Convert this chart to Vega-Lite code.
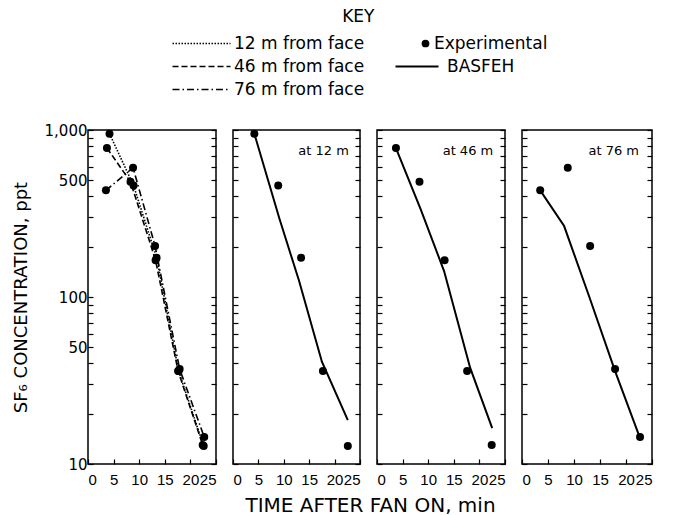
{
  "$schema": "https://vega.github.io/schema/vega-lite/v6.json",
  "padding": {"left": 11, "right": 5, "top": 8, "bottom": 0},
  "background": "white",
  "config": {
    "font": "DejaVu Sans",
    "view": {"stroke": "black", "strokeWidth": 1.5},
    "axis": {"grid": false, "domain": false, "tickColor": "black", "tickWidth": 1.2, "labelColor": "black", "titleColor": "black", "labelFont": "DejaVu Sans", "titleFont": "DejaVu Sans", "titleFontWeight": "normal", "labelFontSize": 15, "labelOverlap": false, "tickCount": 50},
    "axisX": {"labelFont": "Liberation Sans", "labelFontSize": 15},
    "legend": {"labelFont": "DejaVu Sans", "labelFontSize": 17, "labelColor": "black", "padding": 0, "rowPadding": 5, "labelOffset": 2, "title": null},
    "title": {"font": "DejaVu Sans", "fontSize": 17, "fontWeight": "normal", "color": "black"}
  },
  "title": {"text": "KEY", "anchor": "middle", "dx": 26, "offset": 9},
  "datasets": {
    "exp": [
      {"distance": "12 m from face", "t": 4.2, "c": 950},
      {"distance": "12 m from face", "t": 8.9, "c": 465},
      {"distance": "12 m from face", "t": 13.4, "c": 172},
      {"distance": "12 m from face", "t": 17.7, "c": 36},
      {"distance": "12 m from face", "t": 22.6, "c": 12.8},
      {"distance": "46 m from face", "t": 3.7, "c": 780},
      {"distance": "46 m from face", "t": 8.3, "c": 490},
      {"distance": "46 m from face", "t": 13.2, "c": 166},
      {"distance": "46 m from face", "t": 17.6, "c": 36},
      {"distance": "46 m from face", "t": 22.4, "c": 13},
      {"distance": "76 m from face", "t": 3.5, "c": 435},
      {"distance": "76 m from face", "t": 8.8, "c": 595},
      {"distance": "76 m from face", "t": 13.1, "c": 202},
      {"distance": "76 m from face", "t": 17.9, "c": 37},
      {"distance": "76 m from face", "t": 22.7, "c": 14.5}
    ],
    "model": [
      {"distance": "12 m from face", "t": 4.2, "c": 950},
      {"distance": "12 m from face", "t": 9.1, "c": 297},
      {"distance": "12 m from face", "t": 13.0, "c": 125},
      {"distance": "12 m from face", "t": 17.5, "c": 41},
      {"distance": "12 m from face", "t": 22.6, "c": 18.3},
      {"distance": "46 m from face", "t": 3.7, "c": 780},
      {"distance": "46 m from face", "t": 8.5, "c": 337},
      {"distance": "46 m from face", "t": 13.1, "c": 143},
      {"distance": "46 m from face", "t": 18.2, "c": 37.6},
      {"distance": "46 m from face", "t": 22.5, "c": 16.4},
      {"distance": "76 m from face", "t": 3.5, "c": 435},
      {"distance": "76 m from face", "t": 8.1, "c": 266},
      {"distance": "76 m from face", "t": 12.9, "c": 101},
      {"distance": "76 m from face", "t": 17.9, "c": 36},
      {"distance": "76 m from face", "t": 22.7, "c": 14.3}
    ]
  },
  "spacing": 17,
  "bounds": "flush",
  "hconcat": [
    {
      "width": 128, "height": 334,
      "data": {"name": "exp"},
      "layer": [
        {
          "mark": {"type": "line", "color": "black", "strokeWidth": 1.6},
          "encoding": {
            "x": {"field": "t", "type": "quantitative", "scale": {"domain": [0, 25], "nice": false}, "axis": {"values": [0, 5, 10, 15, 20, 25], "tickCount": 50, "format": "d", "tickSize": -5, "labelPadding": 13, "labelFlush": true, "labelOverlap": false, "title": null}},
            "y": {"field": "c", "type": "quantitative", "scale": {"type": "log", "domain": [10, 1000], "nice": false}, "axis": {"orient": "left", "values": [10, 20, 30, 40, 50, 60, 70, 80, 90, 100, 200, 300, 400, 500, 600, 700, 800, 900, 1000], "tickCount": 50, "tickSize": -5, "labelPadding": 6, "labelOverlap": false, "labelExpr": "indexof([10, 50, 100, 500, 1000], datum.value) >= 0 ? format(datum.value, ',') : ''", "title": "SF₆ CONCENTRATION, ppt", "titleFontSize": 18, "titlePadding": 14}},
            "strokeDash": {"field": "distance", "type": "nominal", "scale": {"domain": ["12 m from face", "46 m from face", "76 m from face"], "range": [[1.5, 1.5], [6, 3], [7, 3, 1.5, 3]]}, "legend": {"orient": "none", "legendX": 129, "legendY": -95, "labelOffset": 0, "symbolType": "M-10.6,0L1,0", "symbolSize": 100, "symbolStrokeWidth": 1.6, "symbolStrokeColor": "black"}}
          }
        },
        {
          "mark": {"type": "point", "filled": true, "color": "black", "size": 64, "opacity": 1},
          "encoding": {
            "x": {"field": "t", "type": "quantitative"},
            "y": {"field": "c", "type": "quantitative", "axis": {"orient": "right", "values": [10, 20, 30, 40, 50, 60, 70, 80, 90, 100, 200, 300, 400, 500, 600, 700, 800, 900, 1000], "tickCount": 50, "tickSize": -5, "labels": false, "title": null}}
          }
        }
      ],
      "resolve": {"axis": {"y": "independent"}}
    },
    {
      "width": 127, "height": 334,
      "layer": [
        {
          "data": {"name": "model"},
          "transform": [{"filter": "datum.distance == '12 m from face'"}],
          "mark": {"type": "line", "strokeWidth": 2},
          "encoding": {
            "x": {"field": "t", "type": "quantitative", "scale": {"domain": [0, 25], "nice": false}, "axis": {"values": [0, 5, 10, 15, 20, 25], "tickCount": 50, "format": "d", "tickSize": -5, "labelPadding": 13, "labelFlush": true, "labelOverlap": false, "title": null}},
            "y": {"field": "c", "type": "quantitative", "scale": {"type": "log", "domain": [10, 1000], "nice": false}, "axis": {"orient": "left", "values": [10, 20, 30, 40, 50, 60, 70, 80, 90, 100, 200, 300, 400, 500, 600, 700, 800, 900, 1000], "tickCount": 50, "tickSize": -5, "labels": false, "title": null}},
            "color": {"datum": "BASFEH", "type": "nominal", "scale": {"domain": ["BASFEH"], "range": ["black"]}, "legend": {"orient": "none", "legendX": 337, "legendY": -72, "labelOffset": 5, "symbolType": "M-7.6,0L1,0", "symbolSize": 100, "symbolStrokeWidth": 2, "symbolStrokeColor": "black"}}
          }
        },
        {
          "data": {"name": "exp"},
          "transform": [{"filter": "datum.distance == '12 m from face'"}],
          "mark": {"type": "point", "filled": true, "color": "black", "size": 64, "opacity": 1},
          "encoding": {
            "x": {"field": "t", "type": "quantitative"},
            "y": {"field": "c", "type": "quantitative", "axis": {"orient": "right", "values": [10, 20, 30, 40, 50, 60, 70, 80, 90, 100, 200, 300, 400, 500, 600, 700, 800, 900, 1000], "tickCount": 50, "tickSize": -5, "labels": false, "title": null}},
            "shape": {"datum": "Experimental", "type": "nominal", "scale": {"domain": ["Experimental"], "range": ["circle"]}, "legend": {"orient": "none", "legendX": 329, "legendY": -95, "symbolSize": 60, "labelOffset": 0, "symbolFillColor": "black", "symbolStrokeColor": "black"}}
          }
        },
        {
          "data": {"values": [{"label": "at 12 m"}]},
          "mark": {"type": "text", "align": "right", "baseline": "middle", "fontSize": 13, "color": "black"},
          "encoding": {
            "x": {"datum": 22.8, "type": "quantitative"},
            "y": {"datum": 750, "type": "quantitative", "axis": null},
            "text": {"field": "label"}
          }
        }
      ],
      "resolve": {"axis": {"y": "independent"}}
    },
    {
      "width": 128, "height": 334,
      "layer": [
        {
          "data": {"name": "model"},
          "transform": [{"filter": "datum.distance == '46 m from face'"}],
          "mark": {"type": "line", "color": "black", "strokeWidth": 2},
          "encoding": {
            "x": {"field": "t", "type": "quantitative", "scale": {"domain": [0, 25], "nice": false}, "axis": {"values": [0, 5, 10, 15, 20, 25], "tickCount": 50, "format": "d", "tickSize": -5, "labelPadding": 13, "labelFlush": true, "labelOverlap": false, "title": "TIME AFTER FAN ON, min", "titleFontSize": 20, "titleX": -7, "titleAlign": "center", "titlePadding": 8}},
            "y": {"field": "c", "type": "quantitative", "scale": {"type": "log", "domain": [10, 1000], "nice": false}, "axis": {"orient": "left", "values": [10, 20, 30, 40, 50, 60, 70, 80, 90, 100, 200, 300, 400, 500, 600, 700, 800, 900, 1000], "tickCount": 50, "tickSize": -5, "labels": false, "title": null}}
          }
        },
        {
          "data": {"name": "exp"},
          "transform": [{"filter": "datum.distance == '46 m from face'"}],
          "mark": {"type": "point", "filled": true, "color": "black", "size": 64, "opacity": 1},
          "encoding": {
            "x": {"field": "t", "type": "quantitative"},
            "y": {"field": "c", "type": "quantitative", "axis": {"orient": "right", "values": [10, 20, 30, 40, 50, 60, 70, 80, 90, 100, 200, 300, 400, 500, 600, 700, 800, 900, 1000], "tickCount": 50, "tickSize": -5, "labels": false, "title": null}}
          }
        },
        {
          "data": {"values": [{"label": "at 46 m"}]},
          "mark": {"type": "text", "align": "right", "baseline": "middle", "fontSize": 13, "color": "black"},
          "encoding": {
            "x": {"datum": 22.7, "type": "quantitative"},
            "y": {"datum": 750, "type": "quantitative", "axis": null},
            "text": {"field": "label"}
          }
        }
      ],
      "resolve": {"axis": {"y": "independent"}}
    },
    {
      "width": 130, "height": 334,
      "layer": [
        {
          "data": {"name": "model"},
          "transform": [{"filter": "datum.distance == '76 m from face'"}],
          "mark": {"type": "line", "color": "black", "strokeWidth": 2},
          "encoding": {
            "x": {"field": "t", "type": "quantitative", "scale": {"domain": [0, 25], "nice": false}, "axis": {"values": [0, 5, 10, 15, 20, 25], "tickCount": 50, "format": "d", "tickSize": -5, "labelPadding": 13, "labelFlush": true, "labelOverlap": false, "title": null}},
            "y": {"field": "c", "type": "quantitative", "scale": {"type": "log", "domain": [10, 1000], "nice": false}, "axis": {"orient": "left", "values": [10, 20, 30, 40, 50, 60, 70, 80, 90, 100, 200, 300, 400, 500, 600, 700, 800, 900, 1000], "tickCount": 50, "tickSize": -5, "labels": false, "title": null}}
          }
        },
        {
          "data": {"name": "exp"},
          "transform": [{"filter": "datum.distance == '76 m from face'"}],
          "mark": {"type": "point", "filled": true, "color": "black", "size": 64, "opacity": 1},
          "encoding": {
            "x": {"field": "t", "type": "quantitative"},
            "y": {"field": "c", "type": "quantitative", "axis": {"orient": "right", "values": [10, 20, 30, 40, 50, 60, 70, 80, 90, 100, 200, 300, 400, 500, 600, 700, 800, 900, 1000], "tickCount": 50, "tickSize": -5, "labels": false, "title": null}}
          }
        },
        {
          "data": {"values": [{"label": "at 76 m"}]},
          "mark": {"type": "text", "align": "right", "baseline": "middle", "fontSize": 13, "color": "black"},
          "encoding": {
            "x": {"datum": 22.5, "type": "quantitative"},
            "y": {"datum": 750, "type": "quantitative", "axis": null},
            "text": {"field": "label"}
          }
        }
      ],
      "resolve": {"axis": {"y": "independent"}}
    }
  ]
}
